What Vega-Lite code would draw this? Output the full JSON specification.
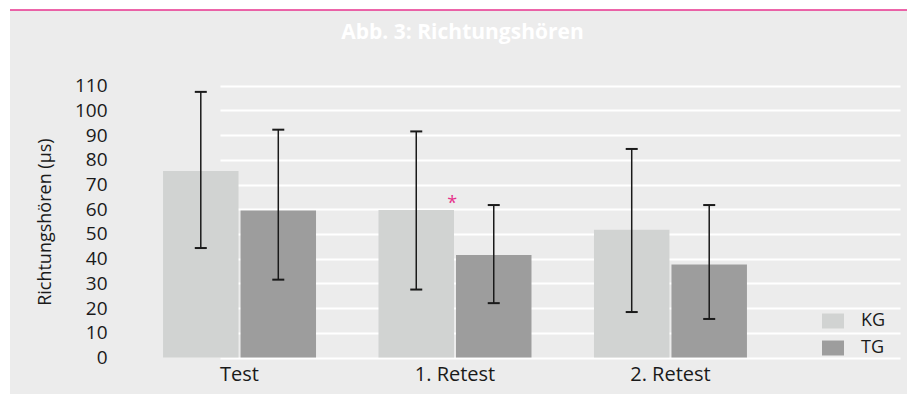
{
  "$schema": "https://vega.github.io/schema/vega-lite/v6.json",
  "width": 897,
  "height": 384,
  "autosize": {"type": "none"},
  "padding": {"left": 10, "top": 10, "right": 0, "bottom": 0},
  "background": "white",
  "title": {
    "text": "Abb. 3: Richtungshören",
    "color": "white",
    "font": "Open Sans",
    "fontSize": 21,
    "fontWeight": "bold",
    "anchor": "middle",
    "frame": "group",
    "baseline": "alphabetic",
    "offset": -50,
    "dx": 4
  },
  "config": {
    "font": "Open Sans",
    "view": {
      "fill": "#ececec",
      "stroke": "#e8338e",
      "strokeWidth": 1.5,
      "strokeDash": [897, 4000]
    },
    "axisY": {
      "orient": "left",
      "offset": -105,
      "labelOverlap": false,
      "domain": false,
      "ticks": false,
      "grid": true,
      "gridColor": "white",
      "gridWidth": 2,
      "labelFontSize": 19,
      "labelColor": "#1a1a1a",
      "labelPadding": 8,
      "titleFontSize": 18,
      "titleFontWeight": "normal",
      "titleColor": "#1a1a1a",
      "titlePadding": 20
    }
  },
  "data": {
    "values": [
      {"phase": "Test", "group": "KG", "mean": 75.5, "lo": 44.3, "hi": 107.5, "sig": ""},
      {"phase": "Test", "group": "TG", "mean": 59.5, "lo": 31.5, "hi": 92.2, "sig": ""},
      {"phase": "1. Retest", "group": "KG", "mean": 59.7, "lo": 27.5, "hi": 91.5, "sig": "*"},
      {"phase": "1. Retest", "group": "TG", "mean": 41.5, "lo": 22, "hi": 61.7, "sig": ""},
      {"phase": "2. Retest", "group": "KG", "mean": 51.7, "lo": 18.4, "hi": 84.4, "sig": ""},
      {"phase": "2. Retest", "group": "TG", "mean": 37.6, "lo": 15.6, "hi": 61.7, "sig": ""}
    ]
  },
  "encoding": {
    "x": {
      "field": "phase",
      "type": "nominal",
      "sort": ["Test", "1. Retest", "2. Retest"],
      "scale": {"range": [105, 785], "paddingInner": 0.29, "paddingOuter": 0.223},
      "axis": {
        "orient": "bottom",
        "offset": -36.5,
        "title": null,
        "domain": false,
        "ticks": false,
        "grid": false,
        "labelAngle": 0,
        "labelFontSize": 20,
        "labelColor": "#1a1a1a",
        "labelPadding": 7
      }
    },
    "xOffset": {
      "field": "group",
      "type": "nominal",
      "sort": ["KG", "TG"],
      "scale": {"paddingInner": 0.026}
    }
  },
  "layer": [
    {
      "mark": {"type": "bar"},
      "encoding": {
        "y": {
          "field": "mean",
          "type": "quantitative",
          "scale": {"domain": [0, 110], "range": [347.5, 75.7], "nice": false},
          "axis": {"title": "Richtungshören (µs)", "values": [0, 10, 20, 30, 40, 50, 60, 70, 80, 90, 100, 110]}
        },
        "color": {
          "field": "group",
          "type": "nominal",
          "scale": {"domain": ["KG", "TG"], "range": ["#d1d3d2", "#9d9d9d"]},
          "legend": {
            "orient": "none",
            "legendX": 812,
            "legendY": 300,
            "title": null,
            "padding": 0,
            "symbolType": "M-1,-0.68H1V0.68H-1Z",
            "symbolSize": 484,
            "symbolStrokeWidth": 0,
            "symbolOpacity": 1,
            "labelFontSize": 18,
            "labelColor": "#1a1a1a",
            "labelOffset": 17,
            "rowPadding": 7
          }
        }
      }
    },
    {
      "mark": {"type": "rule", "color": "#1a1a1a", "strokeWidth": 1.5},
      "encoding": {
        "y": {
          "field": "lo",
          "type": "quantitative",
          "scale": {"domain": [0, 110], "range": [347.5, 75.7], "nice": false},
          "axis": {"title": "Richtungshören (µs)", "values": [0, 10, 20, 30, 40, 50, 60, 70, 80, 90, 100, 110]}
        },
        "y2": {"field": "hi"}
      }
    },
    {
      "mark": {"type": "tick", "color": "#1a1a1a", "thickness": 2, "size": 12, "opacity": 1},
      "encoding": {
        "y": {
          "field": "lo",
          "type": "quantitative",
          "scale": {"domain": [0, 110], "range": [347.5, 75.7], "nice": false},
          "axis": {"title": "Richtungshören (µs)", "values": [0, 10, 20, 30, 40, 50, 60, 70, 80, 90, 100, 110]}
        }
      }
    },
    {
      "mark": {"type": "tick", "color": "#1a1a1a", "thickness": 2, "size": 12, "opacity": 1},
      "encoding": {
        "y": {
          "field": "hi",
          "type": "quantitative",
          "scale": {"domain": [0, 110], "range": [347.5, 75.7], "nice": false},
          "axis": {"title": "Richtungshören (µs)", "values": [0, 10, 20, 30, 40, 50, 60, 70, 80, 90, 100, 110]}
        }
      }
    },
    {
      "mark": {"type": "text", "color": "#e6318a", "fontSize": 18, "baseline": "alphabetic", "dx": 36, "dy": -1},
      "encoding": {
        "y": {
          "field": "mean",
          "type": "quantitative",
          "scale": {"domain": [0, 110], "range": [347.5, 75.7], "nice": false},
          "axis": {"title": "Richtungshören (µs)", "values": [0, 10, 20, 30, 40, 50, 60, 70, 80, 90, 100, 110]}
        },
        "text": {"field": "sig"}
      }
    }
  ]
}
